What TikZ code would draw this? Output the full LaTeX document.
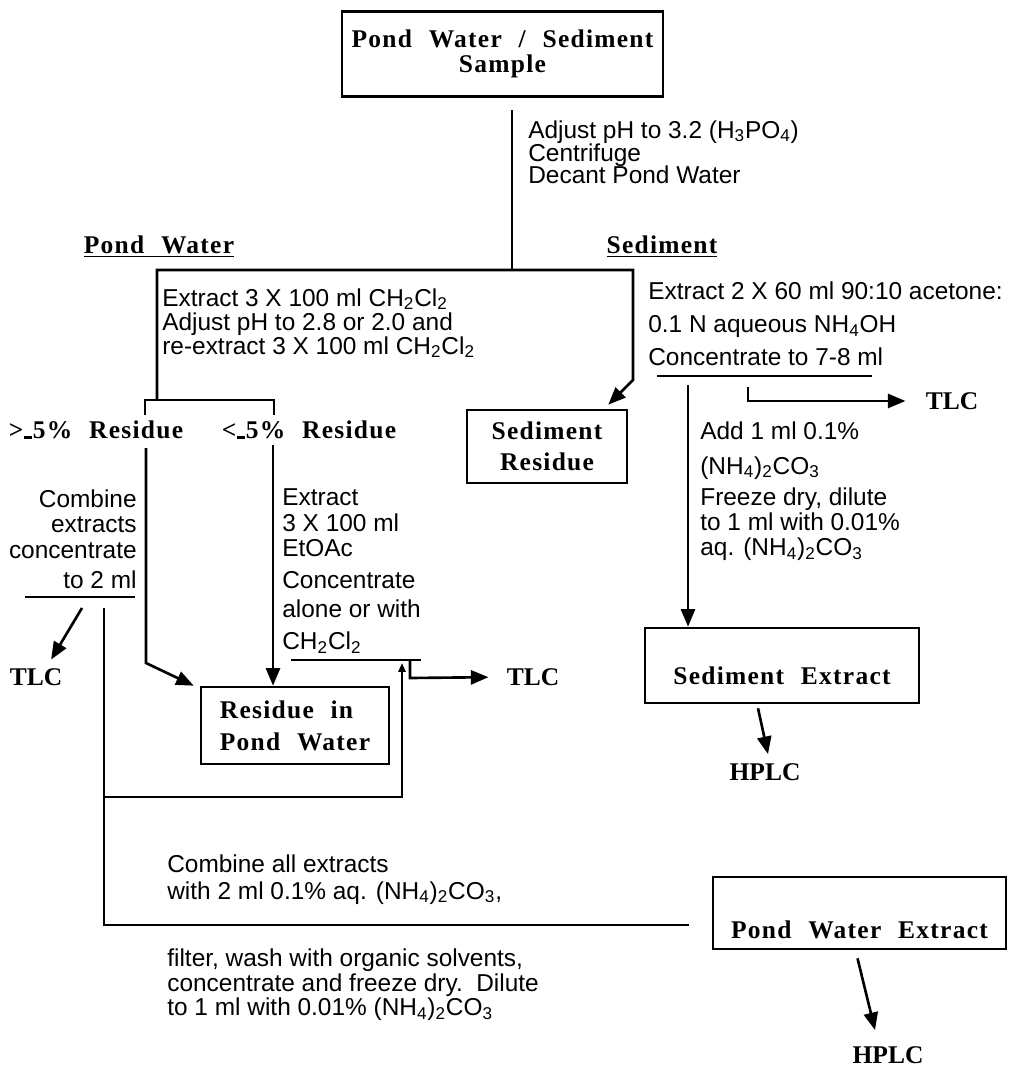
\documentclass[tikz,border=0pt]{standalone}
\usepackage{fontspec}
\setmainfont{Liberation Sans}
\newfontfamily\boxfont[LetterSpace=5.0,WordSpace=2.2]{Liberation Serif}
\newfontfamily\tagfont{Liberation Serif}
\usetikzlibrary{arrows.meta,calc}

\newcommand{\dcm}{CH\textsubscript{2}Cl\textsubscript{2}}
\newcommand{\ammc}{(NH\textsubscript{4})\textsubscript{2}CO\textsubscript{3}}
\newcommand{\lowdash}{\kern0.5pt\rule{0.3em}{0.09em}\kern0.5pt}
\newcommand{\notesize}[1]{\fontsize{13.9}{#1}\selectfont\lineskiplimit=-20pt\relax}

\tikzset{
  wire/.style={line width=1.5pt},
  flow/.style={line width=1.5pt,-{Triangle[length=10pt,width=8pt]}},
  labbox/.style={draw,line width=1.5pt,inner sep=0pt,align=center,
    font=\boxfont\bfseries\fontsize{14.5}{12.5}\selectfont},
  heading/.style={inner sep=0pt,font=\boxfont\bfseries\fontsize{14.5}{12.5}\selectfont},
  tag/.style={inner sep=0pt,font=\tagfont\bfseries\fontsize{14.5}{14.5}\selectfont},
  note/.style={inner sep=0pt,align=left,font=\notesize{14.2pt}},
}

\begin{document}
\begin{tikzpicture}[x=0.02cm,y=-0.02cm]
\useasboundingbox (0,0) rectangle (1009,1067);

% boxes
\node[labbox,minimum width=6.42cm,minimum height=1.7cm] (sample) at (502.5,54) {Pond Water / Sediment\\[2pt]Sample};
\node[labbox,minimum width=3.2cm,minimum height=1.46cm] (sedres) at (547,446.5) {Sediment\\[5pt]Residue};
\node[labbox,align=left,minimum width=3.76cm,minimum height=1.54cm] (residue) at (295,725.5) {Residue in\\[5.7pt]Pond Water};
\node[labbox,minimum width=5.48cm,minimum height=1.5cm] (sedext) at (782,665.5) {\raisebox{-0.2cm}[\height][\depth]{Sediment Extract}};
\node[labbox,minimum width=5.86cm,minimum height=1.44cm] (pwext) at (859.5,913) {\raisebox{-0.34cm}[\height][\depth]{Pond Water Extract}};

% headings and tags
\node[heading] (pwhead) at (159,247) {\underline{Pond Water}};
\node[heading] (sedhead) at (662,247) {\underline{Sediment}};
\node[heading] (hires) at (96,430) {{>}\lowdash5\% Residue};
\node[heading] (lores) at (309,430) {{<}\lowdash5\% Residue};
\node[tag] (tlcR) at (952,401) {TLC};
\node[tag] (tlcM) at (533,677) {TLC};
\node[tag] (tlcL) at (36,677) {TLC};
\node[tag] (hplcR) at (765,772) {HPLC};
\node[tag] (hplcB) at (888,1055) {HPLC};

% notes
\node[note,anchor=north west,font=\notesize{12.6pt}] (adjust) at (528,120) {Adjust pH to 3.2 (H\textsubscript{3}PO\textsubscript{4})\\[0.6pt]Centrifuge\\Decant Pond Water};
\node[note,anchor=north west,font=\notesize{13.7pt}] (pwsteps) at (162,288) {Extract 3 X 100 ml \dcm\\Adjust pH to 2.8 or 2.0 and\\re-extract 3 X 100 ml \dcm};
\node[note,anchor=north west,font=\notesize{19pt}] (sedsteps) at (648,281) {Extract 2 X 60 ml 90:10 acetone:\\0.1 N aqueous NH\textsubscript{4}OH\\Concentrate to 7-8 ml};
\node[note,anchor=north west] (addsteps) at (700,421) {Add 1 ml 0.1\%\\[5.7pt]\ammc\\[4pt]Freeze dry, dilute\\to 1 ml with 0.01\%\\aq. \ammc};
\node[note,anchor=north east,align=right] (combine) at (137,489) {Combine\\extracts\\[1.1pt]concentrate\\[2.8pt]to 2 ml};
\node[note,anchor=north west] (etoac) at (282,488) {Extract\\[0.6pt]3 X 100 ml\\EtOAc\\[4pt]Concentrate\\[2.8pt]alone or with\\[4pt]\dcm};
\node[note,anchor=north west,font=\notesize{15.4pt}] (allext) at (167,854) {Combine all extracts\\with 2 ml 0.1\% aq. \ammc,};
\node[note,anchor=north west] (finish) at (167,948) {filter, wash with organic solvents,\\concentrate and freeze dry.\ \ Dilute\\to 1 ml with 0.01\% \ammc};

% top split
\coordinate (split) at (512,270);
\coordinate (pwfork) at (157,400);
\coordinate (sedturn) at (633,380);
\draw[wire,shorten <=0.24cm] (sample.south -| split) -- (split);
\draw[flow] (pwfork) -- (pwfork |- split) -- (sedturn |- split) -- (sedturn) -- ($(sedres.north east)+(-20,-4)$);

% pond water branches
\coordinate (hiend) at (145,415);
\coordinate (loend) at (274,415);
\draw[wire] (hiend) -- (hiend |- pwfork) -- (loend |- pwfork) -- (loend);
\coordinate (hitop) at (146,448);
\coordinate (hibend) at (146,663);
\coordinate (lotop) at (273,445);
\draw[flow] (hitop) -- (hibend) -- ($(residue.north west)+(-6,0)$);
\draw[flow] (lotop) -- (lotop |- residue.north);

% left column
\draw[wire] (25,597) -- (135,597);
\draw[flow,shorten >=0.2cm] (82,608) -- ($(tlcL.north)+(10,0)$);
\coordinate (leftrun) at (104,608);
\coordinate (poolend) at (689,925);
\coordinate (loopcorner) at (402,797);
\draw[wire] (leftrun) -- (leftrun |- poolend) -- (poolend);
\draw[wire,-{Triangle[length=5pt,width=4pt]}] (leftrun |- loopcorner) -- (loopcorner) -- (402,663);

% middle column
\draw[wire] (291,660) -- (421,660);
\coordinate (midtap) at (410,660);
\draw[flow,shorten >=0.36cm] (midtap) -- (410,678) -- (tlcM.west);

% sediment column
\draw[wire] (657,376) -- (872,376);
\coordinate (sedcol) at (688,385);
\coordinate (sedtap) at (748,387);
\draw[flow] (sedcol) -- (sedcol |- sedext.north);
\draw[flow,shorten >=0.4cm] (sedtap) -- (748,401) -- (tlcR.west);

% to HPLC
\draw[flow] ($(sedext.south)+(-24,4)$) -- ($(hplcR.north)+(3,-9)$);
\draw[flow] ($(pwext.south)+(-2,8)$) -- ($(hplcB.north)+(-13,-16)$);
\end{tikzpicture}
\end{document}
